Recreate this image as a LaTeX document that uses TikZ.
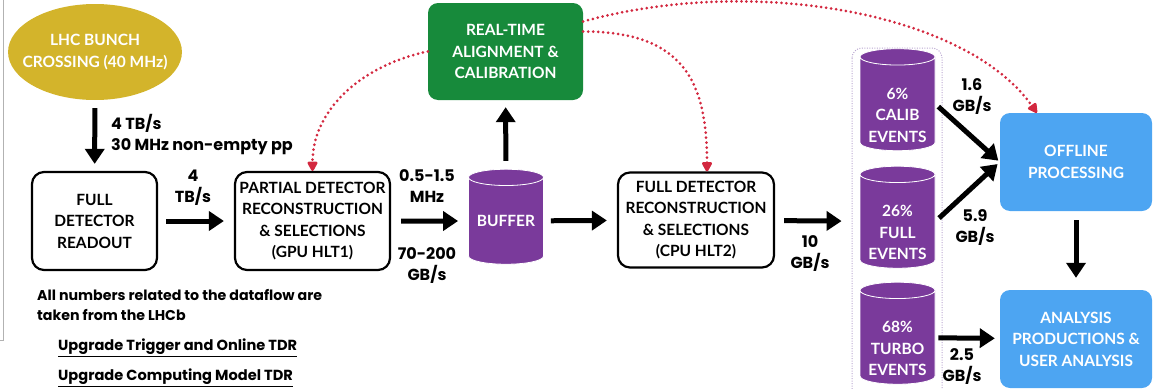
\documentclass[tikz,border=0pt]{standalone}
\usepackage{fontspec}
\setmainfont{Lato}
\newfontfamily\notefont{Poppins}
\usetikzlibrary{arrows.meta,shapes.geometric,calc}

\definecolor{lhcgold}{HTML}{D3B42B}
\definecolor{rtagreen}{HTML}{178A3B}
\definecolor{storepurple}{HTML}{7A3A9B}
\definecolor{offblue}{HTML}{4DA5F2}
\definecolor{feedred}{HTML}{D3283F}
\definecolor{framepurple}{HTML}{B8A5D0}

\newcommand{\lowered}{\rule{0pt}{34pt}}

\begin{document}
\begin{tikzpicture}[x=1pt,y=-1pt,
  boxfont/.style={font=\fontsize{15.5}{21.5}\selectfont\bfseries},
  labelfont/.style={font=\notefont\fontsize{16}{21}\selectfont\bfseries},
  stagebox/.style={boxfont,draw=black,line width=2.2pt,rounded corners=12pt,align=center,inner sep=0pt},
  colbox/.style={boxfont,text=white,rounded corners=10pt,align=center,inner sep=0pt},
  store/.style={boxfont,cylinder,shape border rotate=90,aspect=0.28,draw=white,line width=0.8pt,
    cylinder uses custom fill,cylinder body fill=storepurple,cylinder end fill=storepurple,
    text=white,align=center,inner sep=0pt,minimum width=75pt},
  flow/.style={-{Triangle[length=15pt,width=19pt]},line width=5pt,shorten >=7pt,shorten <=8pt},
  feedback/.style={feedred,line width=3pt,line cap=round,dash pattern=on 0pt off 5pt,
    -{Triangle[length=11pt,width=11pt,round=false]}},
  rate/.style={labelfont,align=center,inner sep=0pt}]
\useasboundingbox (0,0) rectangle (1153,388);
% thin frame on the left
\draw[gray!60,line width=0.8pt] (3,0) -- (3,340) -- (0,340);

% nodes
\node[ellipse,fill=lhcgold,text=white,boxfont,align=center,minimum height=96pt,inner xsep=-11pt,inner ysep=0pt]
  (lhc) at (95,52) {LHC BUNCH\\CROSSING (40 MHz)};
\node[stagebox,minimum width=125pt,minimum height=98pt] (readout) at (94.5,221) {FULL\\DETECTOR\\READOUT};
\node[stagebox,minimum width=155pt,minimum height=98pt] (hltone) at (312.5,221)
  {PARTIAL DETECTOR\\RECONSTRUCTION\\\& SELECTIONS\\(GPU HLT1)};
\node[store,minimum height=95pt] (buffer) at (506,221) {BUFFER};
\node[colbox,fill=rtagreen,minimum width=155pt,minimum height=97pt] (rta) at (505.5,51.5)
  {REAL-TIME\\ALIGNMENT \&\\CALIBRATION};
\node[stagebox,minimum width=156pt,minimum height=95pt] (hlttwo) at (696,220)
  {FULL DETECTOR\\RECONSTRUCTION\\\& SELECTIONS\\(CPU HLT2)};

% output streams
\draw[framepurple,line width=1pt,dash pattern=on 1pt off 1.5pt,rounded corners=10pt] (852,48) rectangle (942,400);
\node[store,minimum height=92pt] (calib) at (897.5,104) {\lowered 6\%\\CALIB\\EVENTS};
\node[store,minimum height=93pt] (fullev) at (897.5,221.5) {\lowered 26\%\\FULL\\EVENTS};
\node[store,minimum height=95pt] (turbo) at (897.5,337.5) {\lowered 68\%\\TURBO\\EVENTS};
\node[colbox,fill=offblue,minimum width=152pt,minimum height=98pt] (offline) at (1076,162) {OFFLINE\\PROCESSING};
\node[colbox,fill=offblue,minimum width=152pt,minimum height=98pt] (analysis) at (1076,339)
  {ANALYSIS\\PRODUCTIONS \&\\USER ANALYSIS};

% dataflow
\draw[flow] (lhc) -- (readout);
\draw[flow,shorten >=10pt] (readout) -- (hltone);
\draw[flow,shorten <=10pt,shorten >=10pt] (hltone) -- (buffer);
\draw[flow] (buffer) -- (rta);
\draw[flow,shorten <=7pt,shorten >=10pt] (buffer) -- (hlttwo);
\draw[flow,shorten <=9pt,shorten >=18pt] (hlttwo) -- (fullev);
\draw[flow,shorten <=4pt,shorten >=2pt] (calib.east) -- (offline.west);
\draw[flow,shorten <=5pt,shorten >=3pt] (fullev.east) -- (offline.west);
\draw[flow,shorten <=3pt,shorten >=5pt] (turbo) -- (analysis);
\draw[flow,shorten <=9pt,shorten >=12pt] (offline) -- (analysis);

% calibration feedback
\draw[feedback] (rta.west) .. controls +(-60,12) and +(0,-65) .. (hltone.north);
\draw[feedback] ($(rta.east)+(0,-20)$) .. controls +(100,0) and +(0,-90) .. ($(hlttwo.north)+(11,0)$);
\draw[feedback] ($(rta.east)+(0,-30)$) .. controls +(170,-47) and +(-70,-100) .. ($(offline.north west)+(37,0)$);

% rates
\node[labelfont,align=left,anchor=west,inner sep=0pt] (lhcrate) at (111,135) {4 TB/s\\30 MHz non-empty pp};
\node[rate] (rateone) at (193,188) {4\\TB/s};
\node[rate] (ratetwo) at (427,186) {0.5-1.5\\MHz};
\node[rate] (ratethree) at (427,266) {70-200\\GB/s};
\node[rate] (ratefour) at (810,254) {10\\GB/s};
\node[rate] (ratecalib) at (972,97) {1.6\\GB/s};
\node[rate] (ratefull) at (975,228) {5.9\\GB/s};
\node[rate] (rateturbo) at (962,367) {2.5\\GB/s};

% note
\node[font=\notefont\fontsize{14.2}{20}\selectfont\bfseries,align=left,anchor=north west,inner sep=0pt] (note) at (37,289)
  {All numbers related to the dataflow are\\taken from the LHCb};
\node[font=\notefont\fontsize{14.6}{30}\selectfont\bfseries,align=left,anchor=north west,inner sep=0pt] (refs) at (58,339)
  {\underline{Upgrade Trigger and Online TDR}\\\underline{Upgrade Computing Model TDR}};
\end{tikzpicture}
\end{document}
